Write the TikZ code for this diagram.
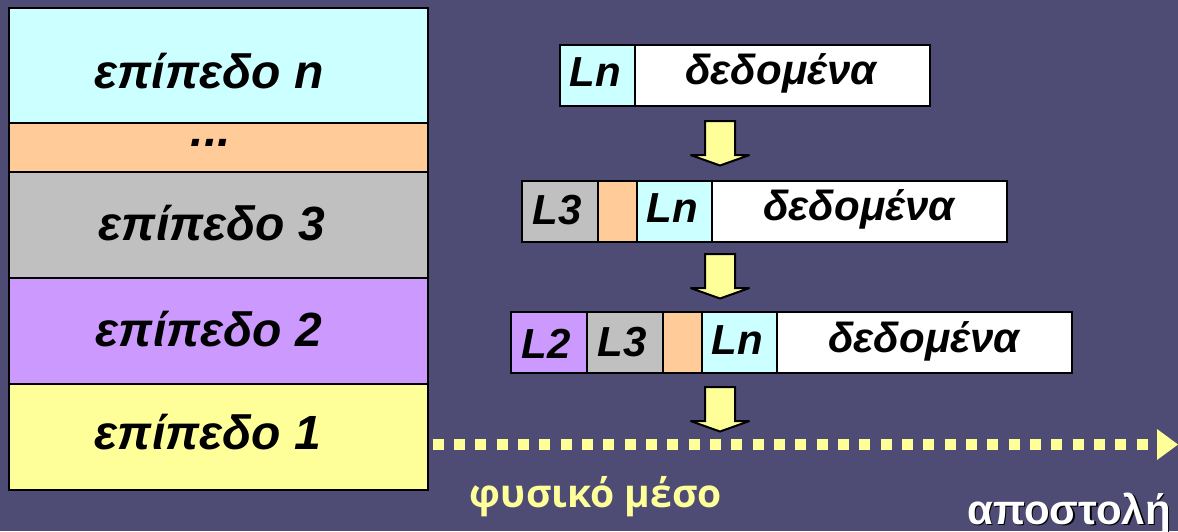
\documentclass[tikz,border=0pt]{standalone}
\usepackage{fontspec}
\setmainfont{Liberation Sans}
\newfontfamily\medfont{Open Sans}
\usetikzlibrary{calc}
\definecolor{bgc}{HTML}{4E4C75}
\definecolor{cy}{HTML}{CCFFFF}
\definecolor{orng}{HTML}{FFCC99}
\definecolor{gry}{HTML}{C0C0C0}
\definecolor{prp}{HTML}{CC99FF}
\definecolor{ylw}{HTML}{FFFF99}
\tikzset{
 x=1pt,y=-1pt,
 cell/.style={draw=black,line width=2pt,inner sep=0pt,outer sep=0pt},
 lab/.style={anchor=base,text=black,inner sep=0pt,font=\fontsize{48}{48}\selectfont\bfseries\itshape},
 slab/.style={anchor=base,text=black,inner sep=0pt,font=\fontsize{42}{42}\selectfont\bfseries\itshape},
 blockarrow/.style={draw=black,line width=2pt,fill=ylw,line join=miter,miter limit=3},
}
% cell macro: name, x0, y0, x1, y1, colour
\newcommand{\cellbox}[6]{\path[cell,fill=#6] (#2,#3) rectangle (#4,#5);
 \coordinate (#1) at ($(#2,#3)!0.5!(#4,#5)$);}
\newcommand{\blockdown}[2]{\draw[blockarrow] (#1-15,#2) -- (#1+15,#2) -- (#1+15,#2+34) -- (#1+29.5,#2+34) -- (#1,#2+44.5) -- (#1-29.5,#2+34) -- (#1-15,#2+34) -- cycle;}
\begin{document}
\begin{tikzpicture}
\fill[bgc] (0,0) rectangle (1178,531);
\useasboundingbox (0,0) rectangle (1178,531);
% stack
\cellbox{s5}{9}{8}{428}{123}{cy}
\cellbox{s4}{9}{123}{428}{172}{orng}
\cellbox{s3}{9}{172}{428}{278}{gry}
\cellbox{s2}{9}{278}{428}{384}{prp}
\cellbox{s1}{9}{384}{428}{490}{ylw}
\node[lab] (t5) at (209,88) {επίπεδο n};
\node[lab] (t4) at (211,146) {...};
\node[lab] (t3) at (212,240) {επίπεδο 3};
\node[lab] (t2) at (209,346) {επίπεδο 2};
\node[lab] (t1) at (208,449) {επίπεδο 1};
% row 1
\cellbox{a1}{560}{45}{635}{106}{cy}
\cellbox{a2}{635}{45}{930}{106}{white}
\node[slab] (ta1) at (595,86) {Ln};
\node[slab] (ta2) at (781,84) {δεδομένα};
\blockdown{720}{121}
% row 2
\cellbox{b1}{522}{181}{598}{242}{gry}
\cellbox{b2}{598}{181}{637}{242}{orng}
\cellbox{b3}{637}{181}{712}{242}{cy}
\cellbox{b4}{712}{181}{1007}{242}{white}
\node[slab] (tb1) at (557,224) {L3};
\node[slab] (tb3) at (672,222) {Ln};
\node[slab] (tb4) at (859,220) {δεδομένα};
\blockdown{720}{254}
% row 3
\cellbox{c1}{511}{312}{587}{373}{prp}
\cellbox{c2}{587}{312}{663}{373}{gry}
\cellbox{c3}{663}{312}{702}{373}{orng}
\cellbox{c4}{702}{312}{777}{373}{cy}
\cellbox{c5}{777}{312}{1072}{373}{white}
\node[slab] (tc1) at (546,358) {L2};
\node[slab] (tc2) at (622,356) {L3};
\node[slab] (tc4) at (737,354) {Ln};
\node[slab] (tc5) at (924,352) {δεδομένα};
\blockdown{720}{387}
% physical medium
\coordinate (ms) at (432.7,444);
\coordinate (me) at (1157,444);
\draw[ylw,line width=11pt,dash pattern=on 11pt off 10.33pt] (ms) -- (me);
\fill[ylw] (1157,429) -- (1178,444.5) -- (1157,460) -- cycle;
\node[anchor=base,text=ylw,inner sep=0pt,font=\medfont\fontsize{39}{39}\selectfont\bfseries] (fm) at (596,507) {φυσικό μέσο};
\node[anchor=base,text=black,inner sep=0pt,font=\fontsize{42}{42}\selectfont\bfseries] (sh) at (1070.5,525.5) {αποστολή};
\node[anchor=base,text=white,inner sep=0pt,font=\fontsize{42}{42}\selectfont\bfseries] (ap) at (1069,524) {αποστολή};
\end{tikzpicture}
\end{document}
